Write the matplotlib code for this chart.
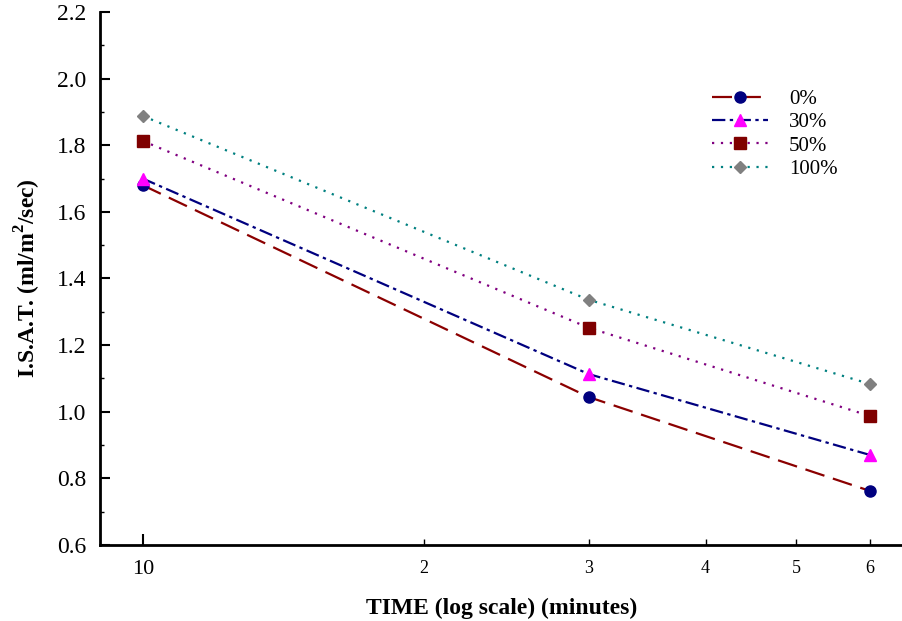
import matplotlib
matplotlib.use("Agg")
import matplotlib.pyplot as plt
from matplotlib.ticker import FixedLocator, FixedFormatter

plt.rcParams['font.family'] = ['Liberation Serif', 'DejaVu Serif']
plt.rcParams['mathtext.fontset'] = 'custom'
plt.rcParams['mathtext.rm'] = 'Liberation Serif'
plt.rcParams['mathtext.bf'] = 'Liberation Serif:bold'

time_min = [10, 30, 60]
isat_0 = [1.68, 1.044, 0.762]
isat_30 = [1.70, 1.113, 0.87]
isat_50 = [1.813, 1.252, 0.987]
isat_100 = [1.888, 1.336, 1.083]
labels = ["0%", "30%", "50%", "100%"]

fig = plt.figure(figsize=(9.03, 6.21), dpi=100)
ax = fig.add_axes([0.1107, 0.1224, 0.889, 0.8583])

ax.plot(time_min, isat_0, color="#8b0000", linestyle=(0, (9, 4)), lw=1.6,
        marker="o", markersize=8, markerfacecolor="#00007f", markeredgecolor="#00007f", label=labels[0])
ax.plot(time_min, isat_30, color="#00007f", linestyle=(0, (6, 2, 1.5, 2)), lw=1.6,
        marker="^", markersize=8, markerfacecolor="#ff00ff", markeredgecolor="#ff00ff", label=labels[1])
ax.plot(time_min, isat_50, color="#800080", linestyle=(0, (1, 3)), lw=1.6,
        marker="s", markersize=8, markerfacecolor="#7f0000", markeredgecolor="#7f0000", label=labels[2])
ax.plot(time_min, isat_100, color="#008080", linestyle=(0, (1, 3)), lw=1.6,
        marker="D", markersize=6, markerfacecolor="#808080", markeredgecolor="#808080", label=labels[3])

ax.set_xscale("log")
ax.set_xlim(9, 65)
ax.set_ylim(0.6, 2.2)

ax.xaxis.set_major_locator(FixedLocator([10]))
ax.xaxis.set_major_formatter(FixedFormatter(["10"]))
ax.xaxis.set_minor_locator(FixedLocator([20, 30, 40, 50, 60]))
ax.xaxis.set_minor_formatter(FixedFormatter(["2", "3", "4", "5", "6"]))

ax.set_yticks([0.6, 0.8, 1.0, 1.2, 1.4, 1.6, 1.8, 2.0, 2.2])
ax.set_yticklabels(["0.6", "0.8", "1.0", "1.2", "1.4", "1.6", "1.8", "2.0", "2.2"])
ax.set_yticks([0.7, 0.9, 1.1, 1.3, 1.5, 1.7, 1.9, 2.1], minor=True)

ax.tick_params(axis="y", which="major", direction="in", length=7, width=1.5, labelsize=17, pad=10)
ax.tick_params(axis="y", which="minor", direction="in", length=3, width=1)
ax.tick_params(axis="x", which="major", direction="in", length=8, width=1.5, labelsize=16, pad=11)
ax.tick_params(axis="x", which="minor", direction="in", length=4, width=1, labelsize=13, pad=11)

ax.spines["top"].set_visible(False)
ax.spines["right"].set_visible(False)
ax.spines["left"].set_linewidth(2)
ax.spines["bottom"].set_linewidth(2)

ax.set_xlabel("TIME (log scale) (minutes)", fontsize=17, fontweight="bold", labelpad=13)
ax.set_ylabel(r"I.S.A.T. (ml/m$^\mathbf{2}$/sec)", fontsize=17, fontweight="bold", labelpad=10)

ax.legend(loc="upper left", bbox_to_anchor=(0.762, 0.855), frameon=False, fontsize=15,
          borderpad=0, borderaxespad=0, handlelength=2.7, labelspacing=0.18, handletextpad=1.0)

fig.savefig("out.png", dpi=100)
